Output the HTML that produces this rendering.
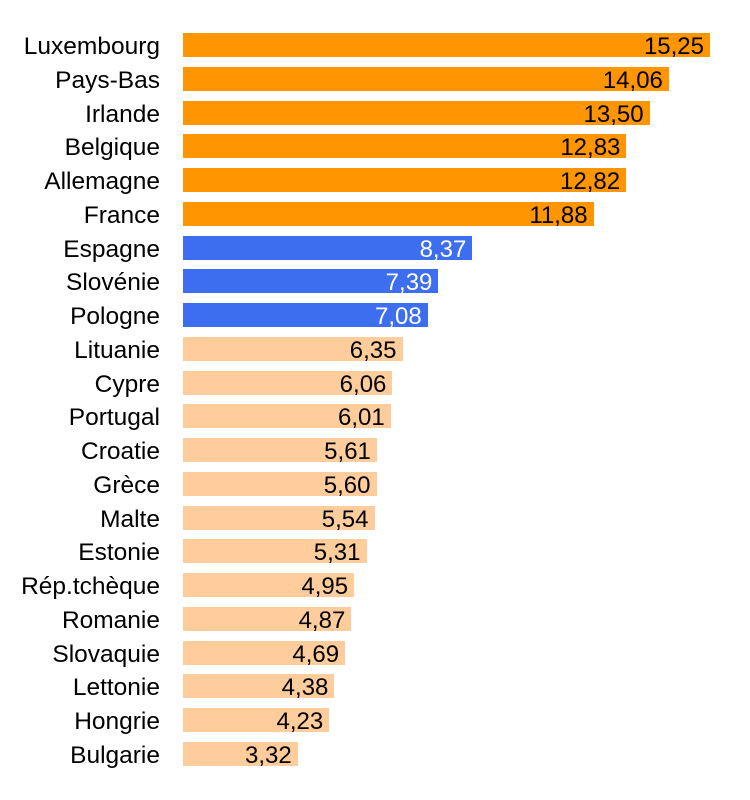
<!DOCTYPE html>
<html><head><meta charset="utf-8"><style>
body{margin:0;background:#fff;width:750px;height:800px;overflow:hidden;font-family:"Liberation Sans",sans-serif}
.r{position:absolute;left:0;height:24px}
.l{position:absolute;left:-40px;width:200px;text-align:right;font-size:24.5px;line-height:26px;top:1px;color:#000}
.b{position:absolute;left:183px;height:24px;box-sizing:border-box;text-align:right;padding-right:6px;font-size:24px;line-height:27px;white-space:nowrap}
</style></head><body>
<div id="c"></div>
<script>
var d=[["Luxembourg",15.25,0],["Pays-Bas",14.06,0],["Irlande",13.50,0],["Belgique",12.83,0],["Allemagne",12.82,0],["France",11.88,0],["Espagne",8.37,1],["Slovénie",7.39,1],["Pologne",7.08,1],["Lituanie",6.35,2],["Cypre",6.06,2],["Portugal",6.01,2],["Croatie",5.61,2],["Grèce",5.60,2],["Malte",5.54,2],["Estonie",5.31,2],["Rép.tchèque",4.95,2],["Romanie",4.87,2],["Slovaquie",4.69,2],["Lettonie",4.38,2],["Hongrie",4.23,2],["Bulgarie",3.32,2]];
var col=["#FF9500","#3D6EEF","#FFCC9B"],fc=["#000","#fff","#000"],h="";
d.forEach(function(e,i){var t=33+i*33.76;
h+='<div class="r" style="top:'+t+'px;width:750px"><div class="l">'+e[0]+'</div><div class="b" style="width:'+(e[1]*34.56).toFixed(1)+'px;background:'+col[e[2]]+';color:'+fc[e[2]]+'">'+e[1].toFixed(2).replace(".",",")+'</div></div>';});
document.getElementById("c").innerHTML=h;
</script>
</body></html>
